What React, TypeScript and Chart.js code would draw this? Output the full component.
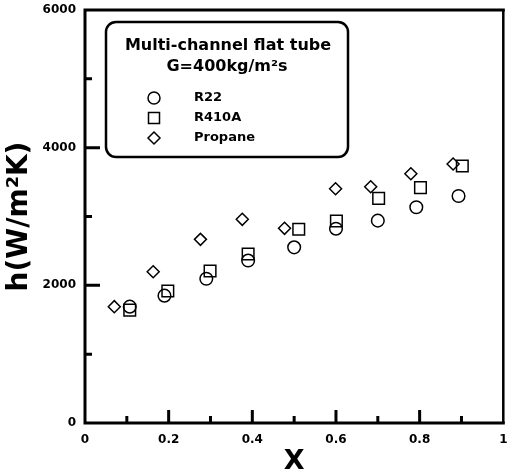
import React, { useEffect, useRef } from 'react';
import { Chart, registerables } from 'chart.js';
Chart.register(...registerables);

const FONT = '"DejaVu Sans", sans-serif';

const xTickValues = [0, 0.2, 0.4, 0.6, 0.8, 1];
const yTickValues = [0, 2000, 4000, 6000];
const xMinorTicks = [0.1, 0.3, 0.5, 0.7, 0.9];
const yMinorTicks = [1000, 3000, 5000];

const r22X = [0.107, 0.19, 0.29, 0.39, 0.5, 0.6, 0.7, 0.792, 0.893];
const r22H = [1690, 1850, 2095, 2360, 2552, 2823, 2940, 3134, 3298];

const r410aX = [0.107, 0.198, 0.299, 0.39, 0.511, 0.601, 0.702, 0.802, 0.902];
const r410aH = [1640, 1918, 2208, 2455, 2814, 2935, 3264, 3419, 3734];

const propaneX = [0.07, 0.163, 0.276, 0.376, 0.477, 0.599, 0.683, 0.779, 0.88];
const propaneH = [1690, 2198, 2668, 2959, 2828, 3404, 3433, 3622, 3763];

const legendTitle = ['Multi-channel flat tube', 'G=400kg/m²s'];
const seriesNames = ['R22', 'R410A', 'Propane'];

const toPoints = (xs: number[], ys: number[]) => xs.map((x, i) => ({ x, y: ys[i] }));

const framePlugin = {
  id: 'frame',
  afterDraw(chart: any) {
    const { ctx, chartArea, scales } = chart;
    const { left, right, top, bottom } = chartArea;
    ctx.save();
    ctx.strokeStyle = '#000';
    ctx.lineCap = 'butt';
    // frame
    ctx.lineWidth = 3;
    ctx.beginPath();
    ctx.moveTo(left, top - 1.5);
    ctx.lineTo(left, bottom + 1.5);
    ctx.moveTo(left - 1.5, bottom);
    ctx.lineTo(right + 1.5, bottom);
    ctx.moveTo(left - 1.5, top);
    ctx.lineTo(right + 1.5, top);
    ctx.stroke();
    ctx.lineWidth = 2.5;
    ctx.beginPath();
    ctx.moveTo(right, top);
    ctx.lineTo(right, bottom);
    ctx.stroke();

    // ticks (inward)
    ctx.lineWidth = 3;
    ctx.beginPath();
    xTickValues.forEach((v) => {
      if (v === 0 || v === 1) return;
      const px = scales.x.getPixelForValue(v);
      ctx.moveTo(px, bottom);
      ctx.lineTo(px, bottom - 13);
    });
    xMinorTicks.forEach((v) => {
      const px = scales.x.getPixelForValue(v);
      ctx.moveTo(px, bottom);
      ctx.lineTo(px, bottom - 7);
    });
    yTickValues.forEach((v) => {
      if (v === 0 || v === 6000) return;
      const py = scales.y.getPixelForValue(v);
      ctx.moveTo(left, py);
      ctx.lineTo(left + 15, py);
    });
    yMinorTicks.forEach((v) => {
      const py = scales.y.getPixelForValue(v);
      ctx.moveTo(left, py);
      ctx.lineTo(left + 7, py);
    });
    ctx.stroke();

    // legend box
    const bx = 106, by = 22, bw = 242, bh = 135, br = 10;
    ctx.lineWidth = 2.5;
    ctx.beginPath();
    ctx.roundRect(bx, by, bw, bh, br);
    ctx.fillStyle = '#fff';
    ctx.fill();
    ctx.stroke();

    ctx.fillStyle = '#000';
    ctx.textAlign = 'center';
    ctx.textBaseline = 'middle';
    ctx.font = `bold 16px ${FONT}`;
    ctx.fillText(legendTitle[0], 228, 46);
    ctx.fillText(legendTitle[1], 227, 67);

    ctx.font = `bold 13px ${FONT}`;
    ctx.textAlign = 'left';
    const rows = [98, 118, 138];
    const sx = 154;
    ctx.lineWidth = 1.5;
    rows.forEach((ry, i) => {
      ctx.beginPath();
      if (i === 0) {
        ctx.arc(sx, ry, 6, 0, Math.PI * 2);
      } else if (i === 1) {
        ctx.rect(sx - 5.5, ry - 5.5, 11, 11);
      } else {
        ctx.moveTo(sx - 6, ry);
        ctx.lineTo(sx, ry - 6);
        ctx.lineTo(sx + 6, ry);
        ctx.lineTo(sx, ry + 6);
        ctx.closePath();
      }
      ctx.stroke();
      ctx.fillText(seriesNames[i], 194, ry);
    });
    ctx.restore();
  },
};

export default function App() {
  const ref = useRef<HTMLCanvasElement>(null);
  useEffect(() => {
    if (!ref.current) return;
    const common = {
      showLine: false,
      borderColor: '#000',
      backgroundColor: 'rgba(0,0,0,0)',
      pointBorderWidth: 1.5,
    };
    const chart = new Chart(ref.current, {
      type: 'scatter',
      data: {
        datasets: [
          { ...common, label: seriesNames[0], data: toPoints(r22X, r22H), pointStyle: 'circle', pointRadius: 6.3 },
          { ...common, label: seriesNames[1], data: toPoints(r410aX, r410aH), pointStyle: 'rect', pointRadius: 8.2 },
          { ...common, label: seriesNames[2], data: toPoints(propaneX, propaneH), pointStyle: 'rectRot', pointRadius: 6 },
        ],
      },
      options: {
        animation: false,
        responsive: false,
        layout: { padding: { top: 10, right: 2, left: 0, bottom: 0 } },
        plugins: { legend: { display: false }, tooltip: { enabled: false } },
        scales: {
          x: {
            type: 'linear',
            min: 0,
            max: 1,
            afterBuildTicks: (s: any) => { s.ticks = xTickValues.map((v) => ({ value: v })); },
            grid: { display: false, drawTicks: false },
            border: { display: false },
            ticks: {
              font: { family: FONT, weight: 'bold', size: 12 },
              color: '#000',
              padding: 10,
              maxRotation: 0,
              callback: (v: any) => String(v),
            },
            title: {
              display: true,
              text: 'X',
              color: '#000',
              font: { family: FONT, weight: 'bold', size: 27, lineHeight: 1 },
              padding: { top: 0, bottom: 0 },
            },
            afterFit: (s: any) => { s.height = 52; s.paddingLeft = 0; s.paddingRight = 0; },
          },
          y: {
            type: 'linear',
            min: 0,
            max: 6000,
            afterBuildTicks: (s: any) => { s.ticks = yTickValues.map((v) => ({ value: v })); },
            grid: { display: false, drawTicks: false },
            border: { display: false },
            ticks: {
              font: { family: FONT, weight: 'bold', size: 12 },
              color: '#000',
              padding: 9,
              callback: (v: any) => String(v),
            },
            title: {
              display: true,
              text: 'h(W/m²K)',
              color: '#000',
              font: { family: FONT, weight: 'bold', size: 28, lineHeight: 1 },
              padding: { top: 6, bottom: 0 },
            },
            afterFit: (s: any) => { s.width = 85; s.paddingTop = 0; s.paddingBottom = 0; },
          },
        },
      },
      plugins: [framePlugin],
    });
    return () => chart.destroy();
  }, []);
  return (
    <div style={{ position: 'absolute', left: 0, top: 0, width: 513, height: 475, background: '#fff' }}>
      <canvas ref={ref} width={513} height={475} />
    </div>
  );
}
